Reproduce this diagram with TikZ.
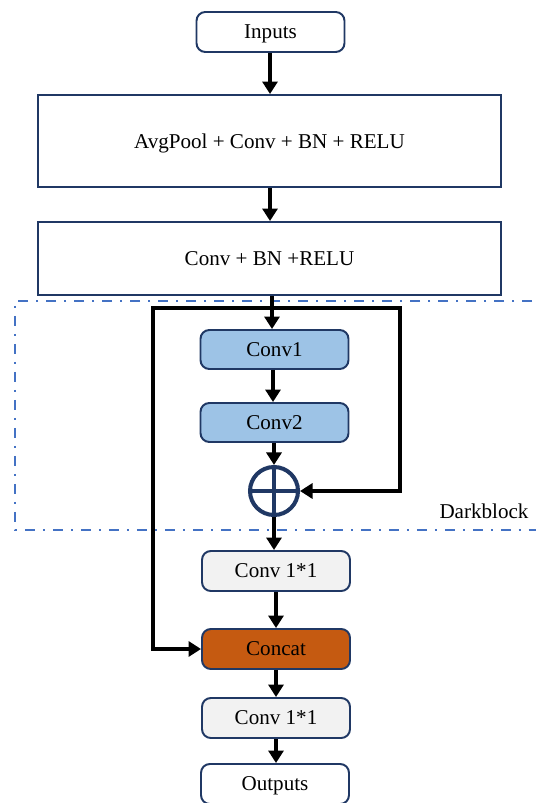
\documentclass[tikz,border=0pt]{standalone}
\usepackage{fontspec}
\setmainfont{Liberation Serif}
\usetikzlibrary{arrows.meta}

\definecolor{navy}{HTML}{203864}
\definecolor{convblue}{HTML}{9DC3E6}
\definecolor{convgray}{HTML}{F2F2F2}
\definecolor{concatorange}{HTML}{C55A11}
\definecolor{dashblue}{HTML}{4472C4}

\begin{document}
\begin{tikzpicture}[x=0.02cm,y=-0.02cm,
    box/.style={draw=navy, line width=1.1pt, fill=white, rounded corners=5pt,
        minimum width=2.96cm, minimum height=0.8cm, inner sep=0pt, text depth=0pt,
        font=\fontsize{12}{14}\selectfont},
    widebox/.style={box, rounded corners=0pt, minimum width=9.26cm},
    flow/.style={line width=2.2pt, -{Triangle[length=0.25cm,width=0.3cm]}}]

    \useasboundingbox (0,0) rectangle (536,803);

                % Darkblock frame, open on the right
                \draw[dashblue, line width=1.1pt,
                      dash pattern=on 0.2cm off 0.16cm on 0.04cm off 0.16cm]
                    (560,301) -- (15,301) -- (15,530) -- (560,530);
                \node[font=\fontsize{12}{14}\selectfont] (darkblock) at (484,511) {Darkblock};

                % main chain
                \node[box] (inputs) at (270.5,32) {Inputs};
                \node[widebox, minimum height=1.84cm] (avgpool) at (269.5,141) {AvgPool + Conv + BN + RELU};
                \node[widebox, minimum height=1.46cm] (convbn) at (269.5,258.5) {Conv + BN +RELU};
                \node[box, fill=convblue, minimum height=0.78cm] (conv1) at (274.5,349.5) {Conv1};
                \node[box, fill=convblue, minimum height=0.78cm] (conv2) at (274.5,422.5) {Conv2};
                \node[circle, draw=navy, line width=2.3pt, minimum size=0.96cm, inner sep=0pt] (plus) at (274,491) {};
                \draw[navy, line width=2.3pt] (plus.north) -- (plus.south) (plus.west) -- (plus.east);
                \node[box, fill=convgray] (convA) at (276,571) {Conv 1*1};
                \node[box, fill=concatorange] (concat) at (276,649) {Concat};
                \node[box, fill=convgray] (convB) at (276,718) {Conv 1*1};
                \node[box] (outputs) at (275,784) {Outputs};

                \draw[flow] (inputs.south -| 270,0) -- (avgpool.north -| 270,0);
                \draw[flow] (avgpool.south -| 270,0) -- (convbn.north -| 270,0);
                \draw[flow] (convbn.south -| 272,0) -- (conv1.north -| 272,0);
                \draw[flow] (conv1.south -| 273,0) -- (conv2.north -| 273,0);
                \draw[flow] (conv2.south -| plus) -- (plus);
                \draw[flow] (plus) -- (plus |- convA.north);
                \draw[flow] (convA) -- (concat);
                \draw[flow] (concat) -- (convB);
                \draw[flow] (convB.south -| 276,0) -- (outputs.north -| 276,0);

                % the two skip branches
                \coordinate (split) at (272,308);
                \draw[flow] (split) -- (400,308) -- (400,491) -- (plus.east);
                \draw[flow] (split) -- (153,308) -- (153,649) -- (concat.west);

\end{tikzpicture}
\end{document}
